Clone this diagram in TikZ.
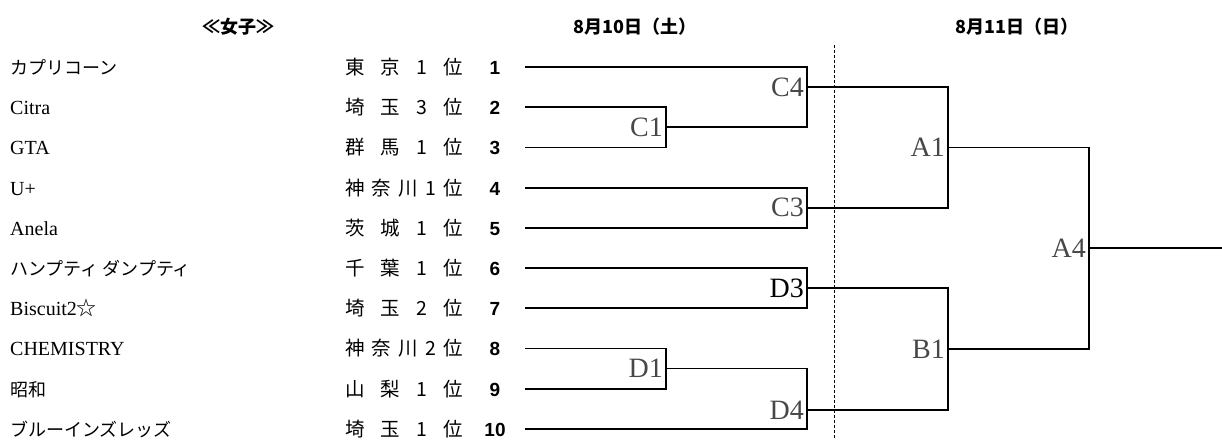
\documentclass[tikz,border=0pt]{standalone}
\usepackage{fontspec}
\setmainfont{Liberation Serif}
\setsansfont{Liberation Sans}
\newfontfamily\jpfont{Noto Sans CJK JP}
\usetikzlibrary{positioning}
\tikzset{every picture/.style={x=1pt,y=-1pt},
  team/.style={anchor=base west,inner sep=0pt,font=\fontsize{20}{22}\selectfont},
  jteam/.style={anchor=base west,inner sep=0pt,font=\jpfont\fontsize{18}{22}\selectfont},
  pref/.style={anchor=base west,inner sep=0pt,font=\jpfont\fontsize{19.5}{22}\selectfont},
  seed/.style={anchor=base,inner sep=0pt,font=\sffamily\bfseries\fontsize{19}{20}\selectfont},
  game/.style={anchor=east,inner sep=3pt,text=black!72,font=\fontsize{28}{30}\selectfont},
  head/.style={inner sep=0pt,font=\jpfont\bfseries\fontsize{18}{22}\selectfont},
  bracket/.style={line width=1.8pt},
  dayline/.style={line width=0.8pt,dash pattern=on 3pt off 2pt}}

\begin{document}
\begin{tikzpicture}
      \useasboundingbox (0,0) rectangle (1222,439);

      % headings
      \node[head] (h0) at (238, 27){≪女子≫};
      \node[head] (h1) at (635, 27){8月10日（土）};
      \node[head] (h2) at (1017, 27){8月11日（日）};

      % teams
      \node[jteam] (t1) at (10, 74){カプリコーン};
      \node[team] (t2) at (10, 114){Citra};
      \node[team] (t3) at (10, 154){GTA};
      \node[team] (t4) at (10, 195){U+};
      \node[team] (t5) at (10, 235){Anela};
      \node[jteam] (t6) at (10, 275){ハンプティ ダンプティ};
      \node[team] (t7) at (10, 315){Biscuit2{\jpfont ☆}};
      \node[team] (t8) at (10, 355){CHEMISTRY};
      \node[jteam] (t9) at (10, 396){昭和};
      \node[jteam] (t10) at (10, 436){ブルーインズレッズ};

      % prefectures
      \node[pref] (p1) at (345, 74){\makebox[118pt][s]{東\hfill 京\hfill 1\hfill 位}};
      \node[pref] (p2) at (345, 114){\makebox[118pt][s]{埼\hfill 玉\hfill 3\hfill 位}};
      \node[pref] (p3) at (345, 154){\makebox[118pt][s]{群\hfill 馬\hfill 1\hfill 位}};
      \node[pref] (p4) at (345, 195){\makebox[118pt][s]{神\hfill 奈\hfill 川\hfill 1\hfill 位}};
      \node[pref] (p5) at (345, 235){\makebox[118pt][s]{茨\hfill 城\hfill 1\hfill 位}};
      \node[pref] (p6) at (345, 275){\makebox[118pt][s]{千\hfill 葉\hfill 1\hfill 位}};
      \node[pref] (p7) at (345, 315){\makebox[118pt][s]{埼\hfill 玉\hfill 2\hfill 位}};
      \node[pref] (p8) at (345, 355){\makebox[118pt][s]{神\hfill 奈\hfill 川\hfill 2\hfill 位}};
      \node[pref] (p9) at (345, 396){\makebox[118pt][s]{山\hfill 梨\hfill 1\hfill 位}};
      \node[pref] (p10) at (345, 436){\makebox[118pt][s]{埼\hfill 玉\hfill 1\hfill 位}};

      % seeds
      \node[seed] (n1) at (495, 74){1};
      \node[seed] (n2) at (495, 114){2};
      \node[seed] (n3) at (495, 154){3};
      \node[seed] (n4) at (495, 195){4};
      \node[seed] (n5) at (495, 235){5};
      \node[seed] (n6) at (495, 275){6};
      \node[seed] (n7) at (495, 315){7};
      \node[seed] (n8) at (495, 355){8};
      \node[seed] (n9) at (495, 396){9};
      \node[seed] (n10) at (495, 436){10};

      % line starts
      \coordinate (s1) at (525, 67);
      \coordinate (s2) at (525, 107.2);
      \coordinate (s3) at (525, 147.4);
      \coordinate (s4) at (525, 187.6);
      \coordinate (s5) at (525, 227.8);
      \coordinate (s6) at (525, 268);
      \coordinate (s7) at (525, 308.2);
      \coordinate (s8) at (525, 348.4);
      \coordinate (s9) at (525, 388.6);
      \coordinate (s10) at (525, 428.8);

      % games
      \coordinate (c1) at (666, 127.3);
      \coordinate (c4) at (807, 87);
      \coordinate (c3) at (807, 207.7);
      \coordinate (d3) at (807, 288.1);
      \coordinate (d1) at (666, 368.5);
      \coordinate (d4) at (807, 410);
      \coordinate (a1) at (948, 147.4);
      \coordinate (b1) at (948, 349);
      \coordinate (a4) at (1089, 248);
      \coordinate (win) at (1222, 248);

      \node[game] (lc1) at (c1){C1};
      \node[game] (lc4) at (c4){C4};
      \node[game] (lc3) at (c3){C3};
      \node[game,text=black] (ld3) at (d3){D3};
      \node[game] (ld1) at (d1){D1};
      \node[game] (ld4) at (d4){D4};
      \node[game] (la1) at (a1){A1};
      \node[game] (lb1) at (b1){B1};
      \node[game] (la4) at (a4){A4};

      \draw[bracket](s2) -| (c1) |- (s3);
      \draw[bracket](s1) -| (c4) |- (c1);
      \draw[bracket](s4) -| (c3) |- (s5);
      \draw[bracket](c4) -| (a1) |- (c3);
      \draw[bracket](s6) -| (d3) |- (s7);
      \draw[bracket](s8) -| (d1) |- (s9);
      \draw[bracket](d1) -| (d4) |- (s10);
      \draw[bracket](d3) -| (b1) |- (d4);
      \draw[bracket](a1) -| (a4) |- (b1);
      \draw[bracket](a4) -- (win);

      % day split
      \coordinate (dtop) at (834, 45);
      \coordinate (dbot) at (834, 439);
      \draw[dayline](dtop) -- (dbot);
    \end{tikzpicture}
\end{document}
